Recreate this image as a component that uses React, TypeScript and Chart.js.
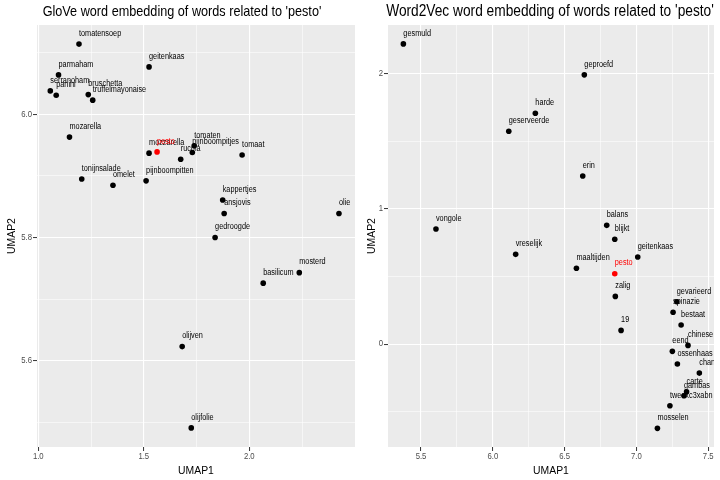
import React, { useEffect, useRef } from 'react';
import { Chart, registerables } from 'chart.js';
Chart.register(...registerables);

// ---------- data ----------
const HIGHLIGHT = 'pesto';

const gloveWords = ['tomatensoep', 'geitenkaas', 'parmaham', 'serranoham', 'panini', 'bruschetta', 'truffelmayonaise', 'mozarella', 'mozzarella', 'rucola', 'pijnboompitjes', 'tomaten', 'tomaat', 'tonijnsalade', 'omelet', 'pijnboompitten', 'kappertjes', 'ansjovis', 'olie', 'gedroogde', 'mosterd', 'basilicum', 'olijven', 'olijfolie', 'pesto'];
const gloveX = [1.193, 1.525, 1.096, 1.057, 1.085, 1.237, 1.258, 1.148, 1.525, 1.675, 1.730, 1.739, 1.966, 1.206, 1.354, 1.511, 1.874, 1.881, 2.425, 1.838, 2.237, 2.066, 1.682, 1.725, 1.563];
const gloveY = [6.114, 6.077, 6.064, 6.038, 6.031, 6.032, 6.023, 5.963, 5.937, 5.927, 5.938, 5.949, 5.934, 5.895, 5.885, 5.892, 5.861, 5.839, 5.839, 5.800, 5.743, 5.726, 5.623, 5.491, 5.939];
const gloveXTickLabels = ['1.0', '1.5', '2.0'];
const gloveXMinor = [1.25, 1.75, 2.25];
const gloveYTickLabels = ['5.6', '5.8', '6.0'];
const gloveYMinor = [5.5, 5.7, 5.9, 6.1];

const w2vWords = ['gesmuld', 'geproefd', 'harde', 'geserveerde', 'erin', 'vongole', 'balans', 'blijkt', 'vreselijk', 'geitenkaas', 'maaltijden', 'zalig', 'gevarieerd', 'spinazie', 'bestaat', '19', 'chinese', 'eend', 'ossenhaas', 'chan', 'carte', 'gambas', 'tweexc3xabn', 'mosselen', 'pesto'];
const w2vX = [5.377, 6.637, 6.296, 6.111, 6.626, 5.604, 6.793, 6.849, 6.159, 7.009, 6.582, 6.853, 7.281, 7.255, 7.311, 6.893, 7.359, 7.250, 7.285, 7.438, 7.349, 7.331, 7.233, 7.146, 6.849];
const w2vY = [2.222, 1.993, 1.709, 1.576, 1.244, 0.852, 0.879, 0.776, 0.664, 0.644, 0.561, 0.353, 0.313, 0.235, 0.141, 0.101, -0.010, -0.054, -0.148, -0.215, -0.353, -0.383, -0.457, -0.624, 0.521];
const w2vXTickLabels = ['5.5', '6.0', '6.5', '7.0', '7.5'];
const w2vXMinor = [5.75, 6.25, 6.75, 7.25];
const w2vYTickLabels = ['0', '1', '2'];
const w2vYMinor = [-0.5, 0.5, 1.5];

const gloveTitle = "GloVe word embedding of words related to 'pesto'";
const w2vTitle = "Word2Vec word embedding of words related to 'pesto'";
const xTitle = 'UMAP1';
const yTitle = 'UMAP2';

// ---------- drawing helpers ----------
const FONT = '"Liberation Sans", Arial, Helvetica, sans-serif';
const SX = 0.88;

function txt(ctx: CanvasRenderingContext2D, s: string, x: number, y: number, size: number, color: string, align: CanvasTextAlign = 'left', rot = 0) {
  ctx.save();
  ctx.translate(x, y);
  if (rot) ctx.rotate(rot);
  ctx.scale(SX, 1);
  ctx.font = `${size}px ${FONT}`;
  ctx.fillStyle = color;
  ctx.textAlign = align;
  ctx.textBaseline = 'middle';
  ctx.fillText(s, 0, 0);
  ctx.restore();
}

interface PanelSpec {
  words: string[];
  xs: number[];
  ys: number[];
  xMin: number; xMax: number; yMin: number; yMax: number;
  xTicks: string[]; xMinor: number[];
  yTicks: string[]; yMinor: number[];
  title: string;
  titleX: number;
  titleSize: number;
  yAxisWidth: number;
  padRight: number;
}

function makeConfig(p: PanelSpec): any {
  const xMajorVals = p.xTicks.map(Number);
  const yMajorVals = p.yTicks.map(Number);
  const isMajor = (vals: number[], v: number) => vals.some((m) => Math.abs(m - v) < 1e-9);

  const plugin = {
    id: 'ggpanel',
    beforeDraw(chart: any) {
      const { ctx, chartArea: a } = chart;
      ctx.save();
      ctx.fillStyle = '#FFFFFF';
      ctx.fillRect(0, 0, chart.width, chart.height);
      ctx.fillStyle = '#EBEBEB';
      ctx.fillRect(a.left, a.top, a.right - a.left, a.bottom - a.top);
      ctx.restore();
    },
    beforeDatasetsDraw(chart: any) {
      const { ctx, chartArea: a, scales } = chart;
      ctx.save();
      ctx.beginPath();
      ctx.rect(a.left, a.top, a.right - a.left, a.bottom - a.top);
      ctx.clip();
      p.words.forEach((w, i) => {
        const px = scales.x.getPixelForValue(p.xs[i]);
        const py = scales.y.getPixelForValue(p.ys[i]);
        txt(ctx, w, px, py - 10.5, 8.3, w === HIGHLIGHT ? '#FF0000' : '#000000', 'left');
      });
      ctx.restore();
    },
    afterDraw(chart: any) {
      const { ctx, chartArea: a, scales } = chart;
      p.xTicks.forEach((lab) => {
        txt(ctx, lab, scales.x.getPixelForValue(Number(lab)), a.bottom + 9.5, 8.8, '#4D4D4D', 'center');
      });
      p.yTicks.forEach((lab) => {
        txt(ctx, lab, a.left - 5, scales.y.getPixelForValue(Number(lab)), 8.8, '#4D4D4D', 'right');
      });
      txt(ctx, xTitle, (a.left + a.right) / 2, 471, 11.8, '#000000', 'center');
      txt(ctx, yTitle, 12, (a.top + a.bottom) / 2, 11.8, '#000000', 'center', -Math.PI / 2);
      txt(ctx, p.title, p.titleX, 12, p.titleSize, '#000000', 'center');
    },
  };

  return {
    type: 'scatter',
    data: {
      datasets: [
        {
          data: p.xs.map((x, i) => ({ x, y: p.ys[i] })),
          pointRadius: 2.8,
          pointHoverRadius: 2.8,
          pointBorderWidth: 0,
          pointBackgroundColor: (c: any) => (p.words[c.dataIndex] === HIGHLIGHT ? '#FF0000' : '#000000'),
          pointBorderColor: 'rgba(0,0,0,0)',
        },
      ],
    },
    options: {
      animation: false,
      responsive: false,
      maintainAspectRatio: false,
      events: [],
      layout: { padding: { top: 25, right: p.padRight, left: 0, bottom: 0 } },
      plugins: { legend: { display: false }, tooltip: { enabled: false }, title: { display: false } },
      scales: {
        x: {
          type: 'linear',
          min: p.xMin,
          max: p.xMax,
          afterFit: (s: any) => { s.height = 33; },
          afterBuildTicks: (s: any) => {
            s.ticks = [...p.xMinor, ...xMajorVals].sort((m, n) => m - n).map((v) => ({ value: v }));
          },
          ticks: { display: false },
          border: { display: false },
          grid: {
            color: '#FFFFFF',
            lineWidth: (c: any) => (isMajor(xMajorVals, c.tick.value) ? 1.1 : 0.55),
            tickColor: (c: any) => (isMajor(xMajorVals, c.tick.value) ? '#333333' : 'rgba(0,0,0,0)'),
            tickWidth: 1,
            tickLength: 4,
            drawTicks: true,
          },
        },
        y: {
          type: 'linear',
          min: p.yMin,
          max: p.yMax,
          afterFit: (s: any) => { s.width = p.yAxisWidth; },
          afterBuildTicks: (s: any) => {
            s.ticks = [...p.yMinor, ...yMajorVals].sort((m, n) => m - n).map((v) => ({ value: v }));
          },
          ticks: { display: false },
          border: { display: false },
          grid: {
            color: '#FFFFFF',
            lineWidth: (c: any) => (isMajor(yMajorVals, c.tick.value) ? 1.1 : 0.55),
            tickColor: (c: any) => (isMajor(yMajorVals, c.tick.value) ? '#333333' : 'rgba(0,0,0,0)'),
            tickWidth: 1,
            tickLength: 4,
            drawTicks: true,
          },
        },
      },
    },
    plugins: [plugin],
  };
}

function Panel({ spec, left }: { spec: PanelSpec; left: number }) {
  const ref = useRef<HTMLCanvasElement | null>(null);
  useEffect(() => {
    if (!ref.current) return;
    const chart = new Chart(ref.current, makeConfig(spec));
    return () => chart.destroy();
  }, [spec]);
  return (
    <canvas
      ref={ref}
      width={360}
      height={480}
      style={{ position: 'absolute', left, top: 0, width: 360, height: 480 }}
    />
  );
}

const gloveSpec: PanelSpec = {
  words: gloveWords, xs: gloveX, ys: gloveY,
  xMin: 0.994, xMax: 2.501, yMin: 5.460, yMax: 6.145,
  xTicks: gloveXTickLabels, xMinor: gloveXMinor,
  yTicks: gloveYTickLabels, yMinor: gloveYMinor,
  title: gloveTitle, titleX: 182, titleSize: 14.4, yAxisWidth: 37, padRight: 5,
};

const w2vSpec: PanelSpec = {
  words: w2vWords, xs: w2vX, ys: w2vY,
  xMin: 5.270, xMax: 7.540, yMin: -0.762, yMax: 2.362,
  xTicks: w2vXTickLabels, xMinor: w2vXMinor,
  yTicks: w2vYTickLabels, yMinor: w2vYMinor,
  title: w2vTitle, titleX: 190, titleSize: 15.6, yAxisWidth: 28, padRight: 6,
};

export default function App() {
  return (
    <div style={{ position: 'fixed', left: 0, top: 0, width: 720, height: 480, background: '#FFFFFF', overflow: 'hidden' }}>
      <Panel spec={gloveSpec} left={0} />
      <Panel spec={w2vSpec} left={360} />
    </div>
  );
}
